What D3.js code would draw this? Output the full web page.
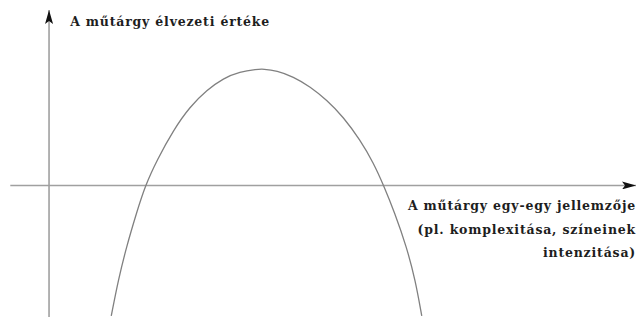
<!DOCTYPE html>
<html>
<head>
<meta charset="utf-8">
<script src="https://cdn.jsdelivr.net/npm/d3@7"></script>
<style>
  body { margin: 0; background: #fff; }
  text { font-family: "DejaVu Serif", serif; fill: #1e1e1e; font-weight: bold; letter-spacing: 0.8px; }
</style>
</head>
<body>
<div id="chart"></div>
<script>
//DATA
// points (x = feature level, y = enjoyment value)
const curveX = [10.6, 11.8, 13.2, 14.9, 16.4, 18.4, 21.2, 24.0, 26.9, 29.7, 32.5, 35.4, 36.5,
                38.8, 41.6, 44.5, 47.3, 50.1, 53.0, 55.3, 57.0, 58.9, 60.9, 62.4, 63.5];
const curveY = [-74.4, -53.9, -34.9, -15.7, 0, 14.5, 31.6, 44.9, 54.4, 61.1, 64.8, 66.2, 66.4,
                65.4, 62.0, 56.3, 48.7, 39.2, 25.9, 12.7, 0, -15.7, -34.9, -53.9, -74.4];

// axis labels
const yLabel = "A műtárgy élvezeti értéke";
const xLabelLines = ["A műtárgy egy-egy jellemzője", "(pl. komplexitása, színeinek", "intenzitása)"];

//SETUP
const width = 639;
const height = 320;

const svg = d3.select("#chart").append("svg")
  .attr("width", width)
  .attr("height", height);

const x = d3.scaleLinear().domain([-6.6, 100]).range([10.3, 636]);
const y = d3.scaleLinear().domain([-75, 100]).range([317, 10]);

// arrow heads
const defs = svg.append("defs");
defs.append("marker")
  .attr("id", "arrow")
  .attr("viewBox", "0 0 14 8")
  .attr("refX", 14)
  .attr("refY", 4)
  .attr("markerWidth", 14)
  .attr("markerHeight", 8)
  .attr("markerUnits", "userSpaceOnUse")
  .attr("orient", "auto")
  .append("path")
  .attr("d", "M0,0 L14,4 L0,8 L3,4 Z")
  .attr("fill", "#111");

//AXES
// x axis
svg.append("line")
  .attr("x1", x(-6.6)).attr("x2", x(100))
  .attr("y1", y(0)).attr("y2", y(0))
  .attr("stroke", "#a0a0a0")
  .attr("stroke-width", 1.6)
  .attr("marker-end", "url(#arrow)");

// y axis
svg.append("line")
  .attr("x1", x(0)).attr("x2", x(0))
  .attr("y1", y(-75)).attr("y2", y(100))
  .attr("stroke", "#a0a0a0")
  .attr("stroke-width", 1.6)
  .attr("marker-end", "url(#arrow)");

//CURVE
const points = curveX.map((d, i) => [d, curveY[i]]);

svg.append("path")
  .datum(points)
  .attr("fill", "none")
  .attr("stroke", "#808080")
  .attr("stroke-width", 1.3)
  .attr("d", d3.line()
    .x(d => x(d[0]))
    .y(d => y(d[1]))
    .curve(d3.curveBasis));

//LABELS
svg.append("text")
  .attr("x", x(3.6))
  .attr("y", 26)
  .attr("font-size", 12.5)
  .text(yLabel);

svg.selectAll(".xlabel")
  .data(xLabelLines)
  .join("text")
  .attr("class", "xlabel")
  .attr("x", 636)
  .attr("y", (d, i) => 210 + i * 23.5)
  .attr("text-anchor", "end")
  .attr("font-size", 12.5)
  .text(d => d);
</script>
</body>
</html>
